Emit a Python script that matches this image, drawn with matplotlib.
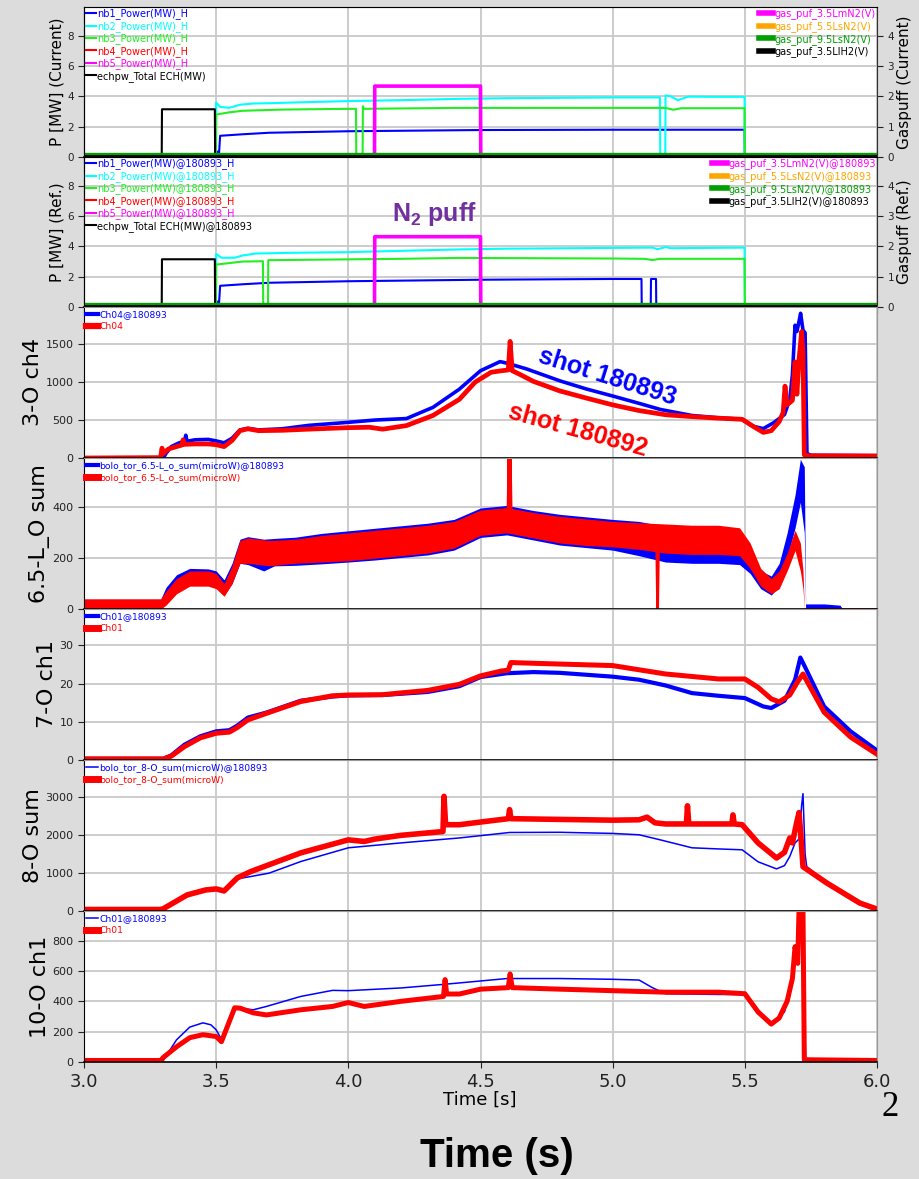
import matplotlib
matplotlib.use('Agg')
import matplotlib.pyplot as plt
from matplotlib.lines import Line2D

plt.rcParams['mathtext.fontset'] = 'custom'
plt.rcParams['mathtext.rm'] = 'Liberation Sans:bold'
plt.rcParams['mathtext.it'] = 'Liberation Sans:bold'
plt.rcParams['mathtext.bf'] = 'Liberation Sans:bold'

# ---------------- data ----------------
xticks = [3.0, 3.5, 4.0, 4.5, 5.0, 5.5, 6.0]

# Panel 1: current shot heating power (MW) and gas puff (V)
t_nb1_cur = [3.0, 3.499, 3.5, 3.508, 3.51, 3.515, 3.6, 3.7, 4.0, 4.5, 5.0, 5.499, 5.5, 6.0]
v_nb1_cur = [0, 0, 0.35, 0.35, 0, 1.4, 1.5, 1.6, 1.7, 1.78, 1.8, 1.8, 0, 0]
t_nb2_cur = [3.0, 3.499, 3.5, 3.515, 3.55, 3.59, 3.64, 3.7, 3.8, 4.0, 4.2, 4.42, 4.6, 5.0, 5.179, 5.18,
             5.199, 5.2, 5.22, 5.247, 5.285, 5.4, 5.499, 5.5, 6.0]
v_nb2_cur = [0, 0, 3.6, 3.3, 3.25, 3.45, 3.53, 3.55, 3.6, 3.69, 3.75, 3.84, 3.88, 3.93, 3.93, 0,
             0, 4.07, 4.0, 3.75, 3.98, 3.97, 3.97, 0, 0]
t_nb3_cur = [3.0, 3.499, 3.5, 3.55, 3.6, 3.75, 4.0, 4.029, 4.03, 4.054, 4.055, 4.06, 4.4, 5.0, 5.2,
             5.23, 5.26, 5.499, 5.5, 6.0]
v_nb3_cur = [0, 0, 2.8, 2.95, 3.05, 3.13, 3.18, 3.18, 0, 0, 3.35, 3.18, 3.24, 3.24, 3.24,
             3.12, 3.22, 3.22, 0, 0]
t_zero = [3.0, 6.0]
v_zero = [0, 0]
t_ech = [3.0, 3.294, 3.295, 3.495, 3.496, 6.0]
v_ech = [0, 0, 3.15, 3.15, 0, 0]
t_n2puff = [3.0, 4.099, 4.1, 4.5, 4.501, 6.0]
v_n2puff_cur = [0, 0, 2.34, 2.34, 0, 0]

# Panel 2: reference shot 180893
t_nb1_ref = [3.0, 3.499, 3.5, 3.508, 3.51, 3.515, 3.6, 3.7, 4.0, 4.5, 5.0, 5.109, 5.11, 5.144,
             5.145, 5.164, 5.165, 6.0]
v_nb1_ref = [0, 0, 0.35, 0.35, 0, 1.4, 1.5, 1.6, 1.7, 1.8, 1.85, 1.85, 0, 0,
             1.85, 1.85, 0, 0]
t_nb2_ref = [3.0, 3.499, 3.5, 3.52, 3.57, 3.6, 3.65, 3.8, 4.0, 4.42, 4.6, 5.0, 5.15, 5.17, 5.2,
             5.22, 5.499, 5.5, 6.0]
v_nb2_ref = [0, 0, 3.5, 3.25, 3.25, 3.4, 3.53, 3.58, 3.62, 3.8, 3.85, 3.9, 3.92, 3.82, 3.95,
             3.88, 3.92, 0, 0]
t_nb3_ref = [3.0, 3.499, 3.5, 3.6, 3.677, 3.678, 3.696, 3.697, 4.2, 4.42, 5.0, 5.12, 5.15, 5.18,
             5.499, 5.5, 6.0]
v_nb3_ref = [0, 0, 2.8, 3.0, 3.02, 0, 0, 3.09, 3.18, 3.24, 3.2, 3.18, 3.1, 3.18,
             3.18, 0, 0]
v_n2puff_ref = [0, 0, 2.32, 2.32, 0, 0]

nb_labels = ['nb1_Power(MW)_H', 'nb2_Power(MW)_H', 'nb3_Power(MW)_H', 'nb4_Power(MW)_H',
             'nb5_Power(MW)_H', 'echpw_Total ECH(MW)']
nb_labels_ref = ['nb1_Power(MW)@180893_H', 'nb2_Power(MW)@180893_H', 'nb3_Power(MW)@180893_H',
                 'nb4_Power(MW)@180893_H', 'nb5_Power(MW)@180893_H', 'echpw_Total ECH(MW)@180893']
gas_labels = ['gas_puf_3.5LmN2(V)', 'gas_puf_5.5LsN2(V)', 'gas_puf_9.5LsN2(V)', 'gas_puf_3.5LlH2(V)']
gas_labels_ref = [s + '@180893' for s in gas_labels]

# Panel 3: 3-O ch4
t_ch4_red = [3.00, 3.29, 3.295, 3.30, 3.32, 3.35, 3.37, 3.375, 3.38, 3.42, 3.47, 3.50, 3.53, 3.56,
             3.59, 3.62, 3.66, 3.75, 3.85, 4.00, 4.08, 4.13, 4.22, 4.32, 4.42, 4.48, 4.54, 4.58,
             4.605, 4.612, 4.62, 4.65, 4.70, 4.80, 4.90, 5.00, 5.10, 5.20, 5.30, 5.40, 5.49, 5.53,
             5.57, 5.60, 5.63, 5.645, 5.652, 5.66, 5.68, 5.69, 5.697, 5.705, 5.715, 5.72, 5.725,
             5.74, 6.00]
v_ch4_red = [0, 5, 130, 60, 120, 150, 170, 240, 180, 185, 185, 175, 150, 230,
             360, 385, 360, 365, 380, 400, 405, 380, 427, 560, 773, 1000, 1130, 1150,
             1160, 1537, 1150, 1100, 1010, 884, 790, 700, 625, 570, 545, 525, 510, 420,
             337, 360, 480, 600, 947, 700, 760, 1267, 840, 1300, 1667, 1400, 40,
             30, 27]
t_ch4_blue = [3.00, 3.30, 3.31, 3.33, 3.36, 3.38, 3.385, 3.39, 3.42, 3.47, 3.50, 3.53, 3.56, 3.59,
              3.62, 3.66, 3.75, 3.85, 4.00, 4.10, 4.22, 4.32, 4.42, 4.50, 4.574, 4.60, 4.675, 4.80,
              4.90, 5.00, 5.10, 5.18, 5.30, 5.40, 5.49, 5.53, 5.57, 5.61, 5.65, 5.67, 5.68, 5.69,
              5.697, 5.705, 5.711, 5.72, 5.728, 5.735, 5.75, 6.00]
v_ch4_blue = [0, 0, 60, 150, 200, 220, 300, 220, 240, 245, 225, 200, 260, 370,
              390, 370, 385, 430, 470, 500, 520, 667, 907, 1150, 1270, 1250, 1173, 1017,
              910, 817, 720, 640, 560, 530, 510, 420, 387, 467, 573, 773, 1100, 1750,
              1667, 1800, 1907, 1684, 1650, 60, 35, 30]

# Panel 4: 6.5-L_O sum (noisy signals, read as envelopes)
t65_red = [3.00, 3.29, 3.31, 3.35, 3.40, 3.47, 3.50, 3.53, 3.56, 3.59, 3.62, 3.70, 3.80, 3.90, 4.00,
           4.10, 4.20, 4.30, 4.40, 4.50, 4.60, 4.70, 4.80, 4.90, 5.00, 5.10, 5.20, 5.30, 5.40, 5.48,
           5.52, 5.56, 5.60, 5.63, 5.66, 5.69, 5.71, 5.72, 5.725, 6.00]
red65_lo = [0, 0, 15, 60, 90, 90, 80, 50, 100, 180, 180, 170, 180, 185, 190,
            200, 210, 220, 240, 290, 300, 280, 260, 250, 245, 235, 220, 215, 215, 210,
            160, 90, 60, 80, 150, 230, 150, 80, 0, 0]
red65_hi = [40, 40, 70, 120, 150, 150, 140, 100, 170, 270, 280, 270, 275, 290, 300,
            310, 320, 330, 345, 390, 400, 380, 365, 355, 345, 340, 335, 330, 330, 320,
            260, 160, 120, 150, 220, 310, 260, 150, 5, 5]
t65_blue = [3.00, 3.29, 3.31, 3.35, 3.40, 3.47, 3.50, 3.53, 3.56, 3.59, 3.62, 3.68, 3.72, 3.80, 3.90,
            4.00, 4.10, 4.20, 4.30, 4.40, 4.50, 4.60, 4.70, 4.80, 4.90, 5.00, 5.10, 5.20, 5.30, 5.40,
            5.48, 5.52, 5.56, 5.60, 5.63, 5.66, 5.69, 5.71, 5.725, 5.73, 5.80, 5.86, 5.87, 6.00]
blue65_lo = [0, 0, 20, 75, 100, 100, 95, 55, 100, 180, 175, 150, 170, 172, 178,
             185, 193, 203, 213, 232, 282, 292, 272, 252, 242, 232, 210, 185, 180, 180,
             175, 140, 80, 55, 90, 200, 320, 420, 300, 0, 0, 0, 0, 0]
blue65_hi = [38, 38, 85, 135, 160, 158, 150, 115, 180, 275, 285, 275, 278, 283, 298,
             308, 318, 328, 338, 353, 398, 408, 388, 373, 363, 353, 345, 325, 315, 305,
             300, 240, 150, 130, 180, 300, 450, 590, 560, 20, 20, 15, 0, 0]
t65_spike = [4.606, 4.61, 4.614]
v65_spike = [340, 600, 340]
t65_dip = [5.167, 5.17, 5.173]
v65_dip = [230, 0, 230]

# Panel 5: 7-O ch1
t_c7_red = [3.00, 3.30, 3.33, 3.38, 3.44, 3.50, 3.55, 3.58, 3.62, 3.69, 3.82, 3.94, 4.00, 4.13,
            4.30, 4.42, 4.50, 4.58, 4.605, 4.615, 4.70, 4.90, 5.00, 5.20, 5.40, 5.50, 5.55, 5.60,
            5.63, 5.67, 5.70, 5.72, 5.74, 5.80, 5.90, 6.00]
v_c7_red = [0.3, 0.3, 1.0, 3.5, 5.8, 7.0, 7.3, 8.5, 10.5, 12.2, 15.3, 16.8, 17.0, 17.1,
            18.2, 19.8, 22.0, 23.3, 23.5, 25.5, 25.3, 24.9, 24.7, 22.5, 21.2, 21.2, 19.0, 16.0,
            15.2, 17.0, 20.5, 22.5, 20.0, 12.5, 6.0, 1.5]
t_c7_blue = [3.00, 3.30, 3.33, 3.38, 3.44, 3.50, 3.55, 3.58, 3.62, 3.69, 3.82, 3.94, 4.00, 4.13,
             4.30, 4.42, 4.50, 4.60, 4.70, 4.80, 5.00, 5.10, 5.20, 5.30, 5.40, 5.50, 5.57, 5.60,
             5.65, 5.69, 5.71, 5.73, 5.80, 5.90, 6.00]
v_c7_blue = [0.3, 0.3, 1.2, 4.0, 6.2, 7.5, 7.8, 9.0, 11.1, 12.4, 15.5, 16.6, 16.9, 17.0,
             17.8, 19.3, 21.7, 22.7, 23.0, 22.8, 21.8, 21.0, 19.5, 17.5, 16.8, 16.2, 14.0, 13.6,
             15.5, 21.0, 26.8, 24.0, 14.0, 7.5, 2.5]

# Panel 6: 8-O sum
t_c8_red = [3.00, 3.29, 3.30, 3.39, 3.46, 3.50, 3.53, 3.58, 3.63, 3.82, 4.00, 4.06, 4.10, 4.20,
            4.358, 4.362, 4.368, 4.42, 4.50, 4.605, 4.61, 4.615, 4.80, 5.00, 5.10, 5.13, 5.16,
            5.20, 5.279, 5.283, 5.288, 5.40, 5.451, 5.455, 5.46, 5.49, 5.55, 5.62, 5.65, 5.67,
            5.68, 5.695, 5.705, 5.712, 5.72, 5.81, 5.935, 6.00]
v_c8_red = [40, 40, 60, 424, 556, 583, 530, 875, 1040, 1536, 1880, 1837, 1900, 2000,
            2100, 3030, 2280, 2280, 2350, 2440, 2680, 2440, 2420, 2400, 2410, 2480, 2330,
            2300, 2300, 2780, 2300, 2300, 2300, 2540, 2300, 2280, 1800, 1400, 1550, 1930,
            1800, 2300, 2600, 2000, 1170, 740, 210, 50]
t_c8_blue = [3.00, 3.30, 3.39, 3.46, 3.50, 3.53, 3.58, 3.63, 3.70, 3.82, 4.00, 4.20, 4.42, 4.61,
             4.80, 5.00, 5.10, 5.18, 5.30, 5.40, 5.49, 5.55, 5.62, 5.65, 5.67, 5.69, 5.705, 5.715,
             5.72, 5.728, 5.734, 5.81, 5.935, 6.00]
v_c8_blue = [40, 40, 424, 556, 600, 530, 850, 910, 1000, 1307, 1670, 1800, 1930, 2075,
             2080, 2050, 2014, 1880, 1670, 1640, 1617, 1300, 1113, 1200, 1440, 1800, 1900, 2800,
             3100, 1500, 1175, 740, 210, 50]

# Panel 7: 10-O ch1
t_c10_red = [3.00, 3.29, 3.30, 3.35, 3.40, 3.45, 3.50, 3.52, 3.57, 3.59, 3.64, 3.69, 3.82, 3.94,
             4.00, 4.06, 4.20, 4.36, 4.366, 4.372, 4.42, 4.50, 4.605, 4.612, 4.62, 4.80, 5.00,
             5.20, 5.40, 5.50, 5.55, 5.60, 5.63, 5.66, 5.68, 5.69, 5.70, 5.705, 5.72, 5.725, 6.00]
v_c10_red = [10, 10, 30, 100, 160, 180, 168, 134, 357, 355, 324, 310, 344, 366,
             392, 366, 400, 432, 543, 448, 448, 480, 490, 580, 490, 480, 470,
             460, 460, 450, 330, 250, 290, 400, 550, 760, 650, 1000, 1000, 15, 10]
t_c10_blue = [3.00, 3.30, 3.35, 3.40, 3.45, 3.48, 3.50, 3.52, 3.57, 3.59, 3.64, 3.69, 3.82, 3.94,
              4.00, 4.20, 4.35, 4.42, 4.60, 4.80, 5.00, 5.10, 5.15, 5.20, 5.40, 5.50, 5.55, 5.60,
              5.65, 5.68, 5.70, 5.71, 5.72, 5.73, 6.00]
v_c10_blue = [10, 10, 146, 230, 258, 245, 212, 150, 350, 355, 344, 366, 432, 472,
              470, 488, 510, 521, 550, 550, 545, 540, 490, 450, 445, 445, 330, 252,
              330, 560, 800, 900, 700, 15, 10]

# ---------------- figure ----------------
W, H = 919, 1179
BG = '#dcdcdc'
GRID = '#c8c8c8'
BLUE, RED = '#0000ff', '#ff0000'
CYAN, LIME, MAG = '#00ffff', '#22ee22', '#ff00ff'
ORANGE, DGREEN = '#ffa500', '#00a000'

fig = plt.figure(figsize=(W / 100, H / 100), dpi=100, facecolor=BG)
L, R = 84, 877


def make_ax(top, bot):
    ax = fig.add_axes([L / W, 1 - bot / H, (R - L) / W, (bot - top) / H])
    ax.set_facecolor('white')
    ax.set_xlim(3.0, 6.0)
    ax.set_xticks(xticks)
    ax.grid(True, color=GRID, lw=1.3)
    ax.set_axisbelow(True)
    ax.tick_params(labelsize=8, length=4, labelbottom=False, colors='#222222')
    for s in ['top', 'right']:
        ax.spines[s].set_color('#999999')
    ax.spines['left'].set_color('black')
    ax.spines['bottom'].set_color('black')
    ax.spines['bottom'].set_linewidth(1.2)
    return ax


def power_panel(top, bot, nb_series, labels, gas_v, glabels, ylab_l, ylab_r):
    ax = make_ax(top, bot)
    ax.set_ylim(0, 9.9)
    ax.set_yticks([0, 2, 4, 6, 8])
    ax.tick_params(axis='y', labelsize=7.5)
    cols = [BLUE, CYAN, LIME, RED, MAG, 'black']
    for (t, v), c, lab in zip(nb_series, cols, labels):
        ax.plot(t, v, color=c, lw=1.5, label=lab)
    ax.legend(loc='upper left', bbox_to_anchor=(0, 1), borderaxespad=0, borderpad=0.15,
              fontsize=7, handlelength=1.1, handletextpad=0.1, labelspacing=0.16,
              frameon=False, labelcolor='linecolor')
    ax.set_ylabel(ylab_l, fontsize=11, labelpad=2)
    ax2 = ax.twinx()
    ax2.set_ylim(0, 4.95)
    ax2.set_yticks([0, 1, 2, 3, 4])
    ax2.tick_params(axis='y', labelsize=7.5, length=4, colors='#222222')
    ax2.spines['right'].set_color('#333333')
    ax2.plot(t_n2puff, gas_v, color=MAG, lw=2.6, label=glabels[0])
    ax2.plot(t_zero, v_zero, color=ORANGE, lw=4, label=glabels[1])
    ax2.plot(t_zero, v_zero, color=DGREEN, lw=6, label=glabels[2])
    ax2.plot(t_zero, v_zero, color='black', lw=3.5, label=glabels[3])
    leg = ax2.legend(loc='upper right', bbox_to_anchor=(1, 1), borderaxespad=0, borderpad=0.15,
                     fontsize=7, handlelength=1.5, handletextpad=0.1, labelspacing=0.18,
                     frameon=False, labelcolor='linecolor')
    for h in leg.legend_handles:
        h.set_linewidth(4)
    ax2.set_ylabel(ylab_r, fontsize=11, labelpad=2)
    return ax, ax2


ax1, ax1b = power_panel(7, 157,
                        [(t_nb1_cur, v_nb1_cur), (t_nb2_cur, v_nb2_cur), (t_nb3_cur, v_nb3_cur),
                         (t_zero, v_zero), (t_zero, v_zero), (t_ech, v_ech)],
                        nb_labels, v_n2puff_cur, gas_labels, 'P [MW] (Current)', 'Gaspuff (Current)')
ax2, ax2b = power_panel(157, 307,
                        [(t_nb1_ref, v_nb1_ref), (t_nb2_ref, v_nb2_ref), (t_nb3_ref, v_nb3_ref),
                         (t_zero, v_zero), (t_zero, v_zero), (t_ech, v_ech)],
                        nb_labels_ref, v_n2puff_ref, gas_labels_ref, 'P [MW] (Ref.)', 'Gaspuff (Ref.)')
fig.text(434 / W, 1 - 221 / H, 'N$_2$ puff', color='#7030a0', fontsize=18, ha='center',
         va='baseline', family='Liberation Sans', fontweight='bold')


def lower_legend(ax, labels, lws):
    handles = [Line2D([], [], color=BLUE, lw=lws[0]), Line2D([], [], color=RED, lw=lws[1])]
    ax.legend(handles, labels, loc='upper left', bbox_to_anchor=(-0.002, 1), borderaxespad=0,
              borderpad=0.35, fontsize=6.6, handlelength=1.4, handletextpad=0.1,
              labelspacing=0.3, frameon=False, labelcolor='linecolor')


# Panel 3
ax3 = make_ax(307, 458)
ax3.set_ylim(0, 1990)
ax3.set_yticks([0, 500, 1000, 1500])
ax3.plot(t_ch4_blue, v_ch4_blue, color=BLUE, lw=2.6)
ax3.plot(t_ch4_red, v_ch4_red, color=RED, lw=3.4)
lower_legend(ax3, ['Ch04@180893', 'Ch04'], [3, 4.5])
ax3.set_ylabel('3-O ch4', fontsize=16, labelpad=2)
fig.text(607 / W, 1 - 377 / H, 'shot 180893', color=BLUE, fontsize=18, fontweight='bold',
         family='Liberation Sans', rotation=-17.5, ha='center', va='center')
fig.text(578 / W, 1 - 430 / H, 'shot 180892', color=RED, fontsize=18, fontweight='bold',
         family='Liberation Sans', rotation=-15.5, ha='center', va='center')

# Panel 4
ax4 = make_ax(458, 609)
ax4.set_ylim(0, 595)
ax4.set_yticks([0, 200, 400])
ax4.fill_between(t65_blue, blue65_lo, blue65_hi, color=BLUE, lw=0)
ax4.fill_between(t65_red, red65_lo, red65_hi, color=RED, lw=0)
ax4.plot(t65_spike, v65_spike, color=RED, lw=3)
ax4.plot(t65_dip, v65_dip, color=RED, lw=2)
lower_legend(ax4, ['bolo_tor_6.5-L_o_sum(microW)@180893', 'bolo_tor_6.5-L_o_sum(microW)'], [3, 5])
ax4.set_ylabel('6.5-L_O sum', fontsize=16, labelpad=2)

# Panel 5
ax5 = make_ax(609, 760)
ax5.set_ylim(0, 39.5)
ax5.set_yticks([0, 10, 20, 30])
ax5.plot(t_c7_blue, v_c7_blue, color=BLUE, lw=3)
ax5.plot(t_c7_red, v_c7_red, color=RED, lw=3.6)
lower_legend(ax5, ['Ch01@180893', 'Ch01'], [3, 5])
ax5.set_ylabel('7-O ch1', fontsize=16, labelpad=2)

# Panel 6
ax6 = make_ax(760, 911)
ax6.set_ylim(0, 3990)
ax6.set_yticks([0, 1000, 2000, 3000])
ax6.plot(t_c8_blue, v_c8_blue, color=BLUE, lw=1.1)
ax6.plot(t_c8_red, v_c8_red, color=RED, lw=4)
lower_legend(ax6, ['bolo_tor_8-O_sum(microW)@180893', 'bolo_tor_8-O_sum(microW)'], [1.1, 5])
ax6.set_ylabel('8-O sum', fontsize=16, labelpad=2)

# Panel 7
ax7 = make_ax(911, 1062)
ax7.set_ylim(0, 995)
ax7.set_yticks([0, 200, 400, 600, 800])
ax7.plot(t_c10_blue, v_c10_blue, color=BLUE, lw=1.1)
ax7.plot(t_c10_red, v_c10_red, color=RED, lw=3.6)
lower_legend(ax7, ['Ch01@180893', 'Ch01'], [1.1, 5])
ax7.set_ylabel('10-O ch1', fontsize=16, labelpad=2)
ax7.tick_params(axis='x', labelbottom=True, labelsize=13, pad=4)

fig.text(480 / W, 1 - 1100 / H, 'Time [s]', fontsize=13, ha='center', va='center')
fig.text(890 / W, 1 - 1107 / H, '2', fontsize=25, family='Liberation Serif',
         ha='center', va='center')
fig.text(497 / W, 1 - 1156 / H, 'Time (s)', fontsize=29, fontweight='bold',
         family='Liberation Sans', ha='center', va='center')

fig.savefig('out.png', dpi=100, facecolor=BG)
